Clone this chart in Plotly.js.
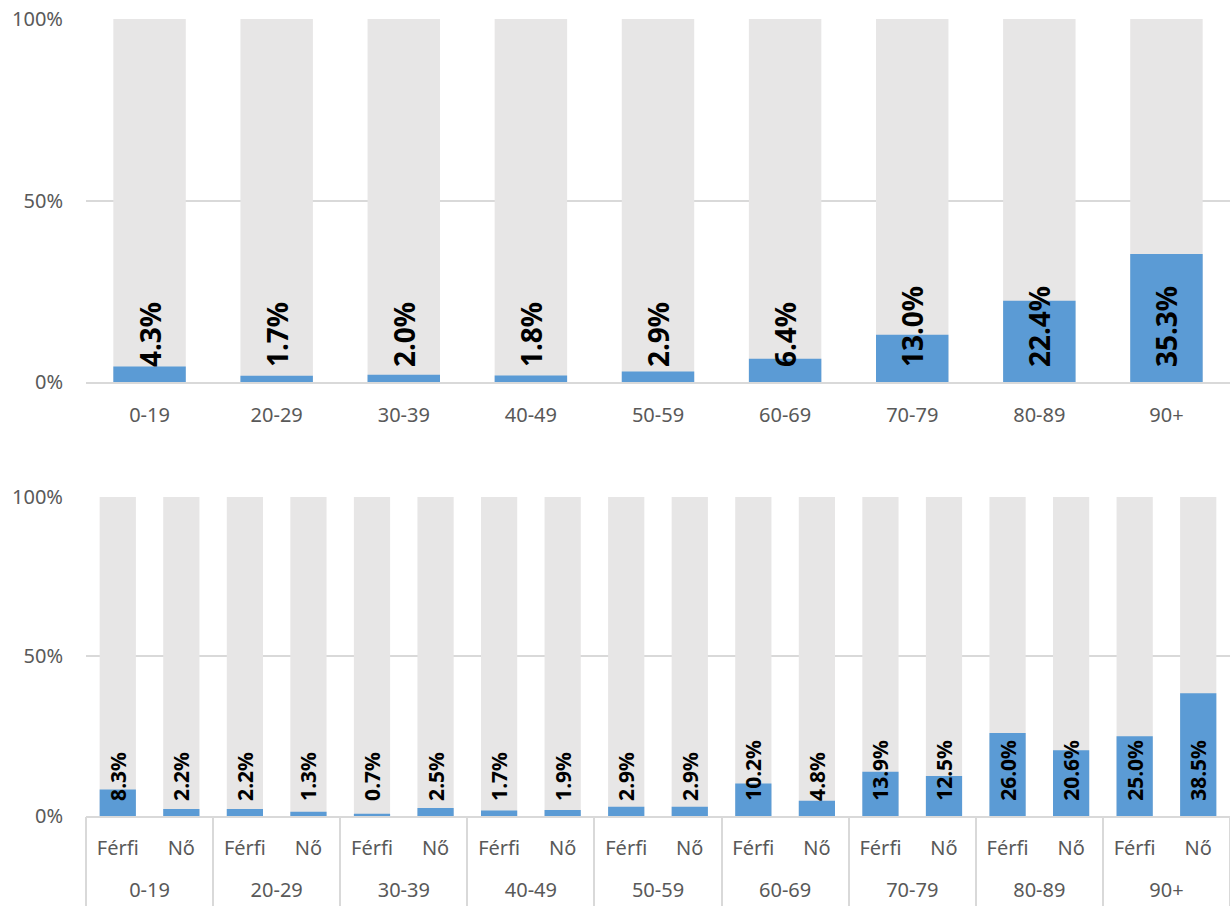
<!DOCTYPE html>
<html><head><meta charset="utf-8">
<script src="https://cdn.plot.ly/plotly-3.0.1.min.js"></script>
<style>html,body{margin:0;padding:0;background:#fff}#chart{width:1230px;height:906px}</style>
</head><body><div id="chart"></div><script>
// ---- data ----
const ageGroups = ['0-19','20-29','30-39','40-49','50-59','60-69','70-79','80-89','90+'];
const totalShare = [4.3, 1.7, 2.0, 1.8, 2.9, 6.4, 13.0, 22.4, 35.3];
const sexes = ['Férfi','Nő'];
const maleShare = [8.3, 2.2, 0.7, 1.7, 2.9, 10.2, 13.9, 26.0, 25.0];
const femaleShare = [2.2, 1.3, 2.5, 1.9, 2.9, 4.8, 12.5, 20.6, 38.5];
const fullShare = 100;
const yTicks = [0, 50, 100];

// ---- derived ----
const outer = ageGroups.flatMap(a => [a, a]);
const inner = ageGroups.flatMap(() => sexes);
const sexShare = ageGroups.flatMap((a, i) => [maleShare[i], femaleShare[i]]);
const topFull = ageGroups.map(() => fullShare);
const botFull = outer.map(() => fullShare);
const fmt = v => v.toFixed(1) + '%';

const BLUE = '#5B9BD5', GREY = '#E7E6E6', GRID = '#D9D9D9', TXT = '#595959';
const FONT = 'Noto Sans, Open Sans, sans-serif';

function bg(x, y, xa, ya) {
  return {type:'bar', x:x, y:y, xaxis:xa, yaxis:ya, marker:{color:GREY}, hoverinfo:'skip', showlegend:false};
}
function val(x, y, xa, ya) {
  return {type:'bar', x:x, y:y, xaxis:xa, yaxis:ya, marker:{color:BLUE}, hoverinfo:'skip', showlegend:false};
}
function lbl(x, y, vals, xa, ya, size, off) {
  return {type:'bar', x:x, y:y, base:off, xaxis:xa, yaxis:ya, marker:{color:'rgba(0,0,0,0)'},
    text: vals.map(fmt), textposition:'inside', insidetextanchor:'start',
    textangle:-90, constraintext:'none',
    textfont:{family:FONT, size:size, color:'#000', weight:'bold'},
    hoverinfo:'skip', showlegend:false};
}
// empty carrier so that an overlay axis gets drawn
function axisCarrier(xa) {
  return {type:'scatter', mode:'markers', x:[], y:[], xaxis:xa, yaxis:'y2', hoverinfo:'skip', showlegend:false};
}

const data = [
  bg(ageGroups, topFull, 'x', 'y'),
  val(ageGroups, totalShare, 'x', 'y'),
  lbl(ageGroups, topFull, totalShare, 'x', 'y', 28, 3.3),
  bg([outer, inner], botFull, 'x2', 'y2'),
  val([outer, inner], sexShare, 'x2', 'y2'),
  lbl([outer, inner], botFull, sexShare, 'x2', 'y2', 21, 3.8),
  axisCarrier('x3'), axisCarrier('x4'), axisCarrier('x5')
];

const tickfont = {family:FONT, size:20, color:TXT};
const yax = {range:[0,100], tickvals:yTicks, ticktext:yTicks.map(v => v + '%'), gridcolor:GRID, gridwidth:2,
  zeroline:false, showline:false, tickfont:tickfont, ticks:'', ticklabelstandoff:22, fixedrange:true};

// positions for the bottom axis labels / dividers
const innerPos = inner.map((s, i) => i);
const outerPos = ageGroups.map((a, i) => i);
const bounds = ageGroups.map((a, i) => i - 0.5).concat([ageGroups.length - 0.5]);

const ovl = {overlaying:'x2', anchor:'y2', type:'linear', showgrid:false, zeroline:false, showline:false,
  tickmode:'array', fixedrange:true, tickfont:tickfont, autorange:false};

const layout = {
  width:1230, height:906,
  margin:{l:86, r:0, t:19, b:90},
  paper_bgcolor:'#fff', plot_bgcolor:'#fff',
  barmode:'overlay', bargap:0.43,
  font:{family:FONT},
  xaxis:{domain:[0,1], anchor:'y', type:'category', showline:true, linecolor:GRID, linewidth:2,
    ticks:'', tickfont:tickfont, ticklabelstandoff:14, fixedrange:true},
  yaxis:Object.assign({domain:[0.5445,1], anchor:'x'}, yax),
  xaxis2:{domain:[0,1], anchor:'y2', type:'multicategory', showline:true, linecolor:GRID, linewidth:2,
    ticks:'', showticklabels:false, showdividers:false, fixedrange:true},
  xaxis3:Object.assign({}, ovl, {range:[-0.5, inner.length - 0.5], tickvals:innerPos, ticktext:inner,
    ticks:'', ticklabelstandoff:18}),
  xaxis4:Object.assign({}, ovl, {range:[-0.5, ageGroups.length - 0.5], tickvals:outerPos, ticktext:ageGroups,
    ticks:'', ticklabelstandoff:60}),
  xaxis5:Object.assign({}, ovl, {range:[-0.5, ageGroups.length - 0.5], tickvals:bounds, showticklabels:false,
    ticks:'outside', ticklen:92, tickwidth:2, tickcolor:GRID}),
  yaxis2:Object.assign({domain:[0,0.4003], anchor:'x2'}, yax)
};

Plotly.newPlot('chart', data, layout, {staticPlot:true, displayModeBar:false});
</script></body></html>
